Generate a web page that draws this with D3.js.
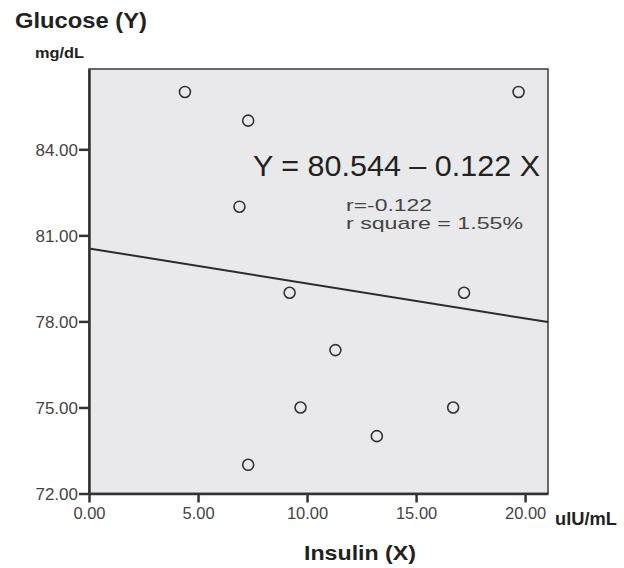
<!DOCTYPE html>
<html><head><meta charset="utf-8">
<script src="https://cdn.jsdelivr.net/npm/d3@7"></script>
<style>
body{margin:0;background:#fff;}
text{font-family:"Liberation Sans",Arial,sans-serif;}
</style></head>
<body>
<svg id="chart" width="624" height="568"></svg>
<script>
// Data
const insulin = [4.4, 7.3, 6.9, 19.7, 9.2, 9.7, 7.3, 17.2, 11.3, 16.7, 13.2];
const glucose = [86.0, 85.0, 82.0, 86.0, 79.0, 75.0, 73.0, 79.0, 77.0, 75.0, 74.0];
const xTicks = [0, 5, 10, 15, 20];
const yTicks = [72, 75, 78, 81, 84];
const intercept = 80.544;
const slope = -0.122;
const equationText = "Y = 80.544 – 0.122 X";
const statLines = ["r=-0.122", "r square = 1.55%"];

const svg = d3.select("#chart");
const L = 89, R = 548, T = 69, B = 493.5;
const x = d3.scaleLinear().domain([0, 21.05]).range([L, R]);
const y = d3.scaleLinear().domain([72, 86.8]).range([B, T]);

// plot background
svg.append("rect").attr("x", L).attr("y", T).attr("width", R - L).attr("height", B - T)
  .attr("fill", "#e9e9eb").attr("stroke", "#3a3a3a").attr("stroke-width", 1.5);

// regression line
const xd = x.domain();
svg.append("line")
  .attr("x1", x(xd[0])).attr("y1", y(intercept + slope * xd[0]))
  .attr("x2", x(xd[1])).attr("y2", y(intercept + slope * xd[1]))
  .attr("stroke", "#2b2b2b").attr("stroke-width", 2);

// points
svg.append("g").selectAll("circle").data(insulin).join("circle")
  .attr("cx", (d) => x(d)).attr("cy", (d, i) => y(glucose[i])).attr("r", 5.5)
  .attr("fill", "none").attr("stroke", "#333").attr("stroke-width", 1.6);

// axes
const yAxis = d3.axisLeft(y).tickValues(yTicks).tickFormat(d3.format(".2f")).tickSize(10).tickSizeOuter(0).tickPadding(1);
const gy = svg.append("g").attr("transform", `translate(${L},0)`).call(yAxis);
const xAxis = d3.axisBottom(x).tickValues(xTicks).tickFormat(d3.format(".2f")).tickSize(9).tickSizeOuter(0).tickPadding(5);
const gx = svg.append("g").attr("transform", `translate(0,${B})`).call(xAxis);
[gx, gy].forEach(g => {
  g.select(".domain").attr("stroke", "#333").attr("stroke-width", 2.5);
  g.selectAll(".tick line").attr("stroke", "#333").attr("stroke-width", 2.5);
  g.selectAll(".tick text").attr("fill", "#444").attr("font-size", 16.5)
    .attr("font-family", '"Liberation Sans", Arial, sans-serif');
});
gy.selectAll(".tick text").attr("dy", "0.36em").attr("font-size", 17);

// equation
svg.append("text").attr("x", 253).attr("y", 176).attr("font-size", 30).attr("fill", "#222")
  .attr("textLength", 287).attr("lengthAdjust", "spacingAndGlyphs").text(equationText);
svg.append("g").selectAll("text").data(statLines).join("text")
  .attr("x", 346).attr("y", (d, i) => 211 + i * 18).attr("font-size", 17).attr("fill", "#444")
  .attr("textLength", (d, i) => i === 0 ? 86 : 177).attr("lengthAdjust", "spacingAndGlyphs")
  .text(d => d);

// titles
svg.append("text").attr("x", 15).attr("y", 28).attr("font-size", 22).attr("font-weight", "bold")
  .attr("fill", "#222").attr("textLength", 132).attr("lengthAdjust", "spacingAndGlyphs").text("Glucose (Y)");
svg.append("text").attr("x", 35).attr("y", 58).attr("font-size", 15.5).attr("font-weight", "bold")
  .attr("fill", "#222").attr("textLength", 49).attr("lengthAdjust", "spacingAndGlyphs").text("mg/dL");
svg.append("text").attr("x", 555).attr("y", 525).attr("font-size", 17.5).attr("font-weight", "bold")
  .attr("fill", "#222").attr("textLength", 62).attr("lengthAdjust", "spacingAndGlyphs").text("ulU/mL");
svg.append("text").attr("x", 304).attr("y", 560).attr("font-size", 21).attr("font-weight", "bold")
  .attr("fill", "#222").attr("textLength", 112).attr("lengthAdjust", "spacingAndGlyphs").text("Insulin (X)");
</script>
</body></html>
